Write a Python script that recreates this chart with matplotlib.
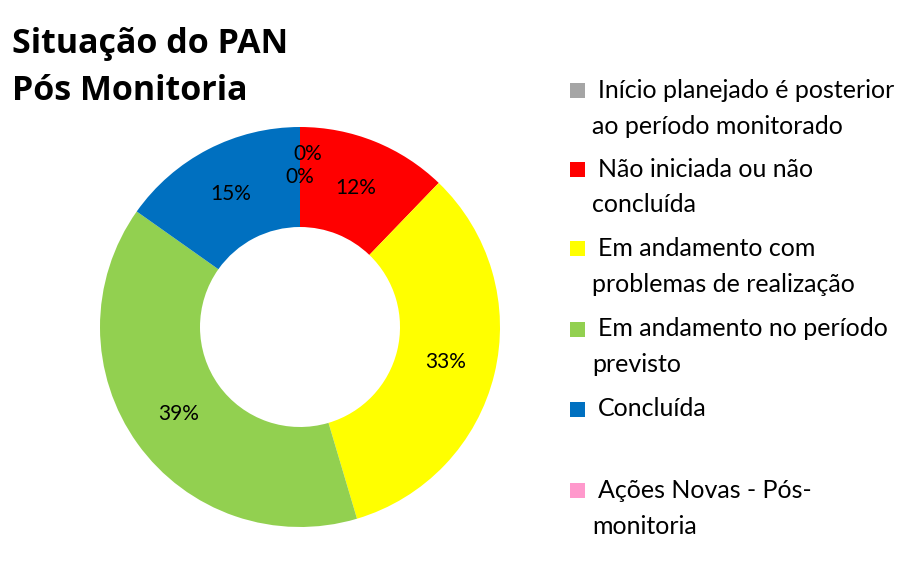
import numpy as np
import matplotlib.pyplot as plt
from matplotlib.patches import Rectangle

# Data
categories = [
    "Início planejado é posterior\nao período monitorado",
    "Não iniciada ou não\nconcluída",
    "Em andamento com\nproblemas de realização",
    "Em andamento no período\nprevisto",
    "Concluída",
    "Ações Novas - Pós-\nmonitoria",
]
values = [0.0, 12.2, 33.2, 39.4, 15.2, 0.0]
pct_labels = ["0%", "12%", "33%", "39%", "15%", "0%"]
colors = ["#A5A5A5", "#FF0000", "#FFFF00", "#92D050", "#0070C0", "#FF99CC"]
title_lines = ["Situação do PAN", "Pós Monitoria"]

W, H = 924, 580
fig = plt.figure(figsize=(W / 100, H / 100), dpi=100)

# donut, centre (300, 327) px, radius 200 px
cx, cy, R = 300, 327, 200
ax = fig.add_axes([(cx - R) / W, 1 - (cy + R) / H, 2 * R / W, 2 * R / H])
wedges, _ = ax.pie(values, colors=colors, startangle=90, counterclock=False,
                   radius=1, wedgeprops=dict(width=0.5, linewidth=0))
ax.set_xlim(-1, 1)
ax.set_ylim(-1, 1)
ax.axis("off")

# percentage labels
label_font = "Lato"
offsets = {0: (0.04, 0.115)}
for i, w in enumerate(wedges):
    ang = np.deg2rad((w.theta1 + w.theta2) / 2)
    x, y = 0.75 * np.cos(ang), 0.75 * np.sin(ang)
    dx, dy = offsets.get(i, (0, 0))
    ax.text(x + dx, y + dy, pct_labels[i], ha="center", va="center",
            fontsize=15, family=label_font, color="black")

# title
for k, line in enumerate(title_lines):
    fig.text(12 / W, 1 - (53 + 47 * k) / H, line, ha="left", va="baseline",
             fontsize=24.5, fontweight="bold", family="Open Sans")

# legend
rows = [90, 169, 248, 329, 409, 490]
for lab, col, yc in zip(categories, colors, rows):
    fig.patches.append(Rectangle((570 / W, 1 - (yc + 7.5) / H), 15 / W, 15 / H,
                                 transform=fig.transFigure, facecolor=col,
                                 edgecolor="none"))
    lines = lab.split("\n")
    fig.text(598 / W, 1 - yc / H, lines[0], ha="left", va="center",
             fontsize=18, family=label_font)
    if len(lines) > 1:
        fig.text(592 / W, 1 - (yc + 36) / H, lines[1], ha="left", va="center",
                 fontsize=18, family=label_font)

fig.savefig("out.png", dpi=100)
